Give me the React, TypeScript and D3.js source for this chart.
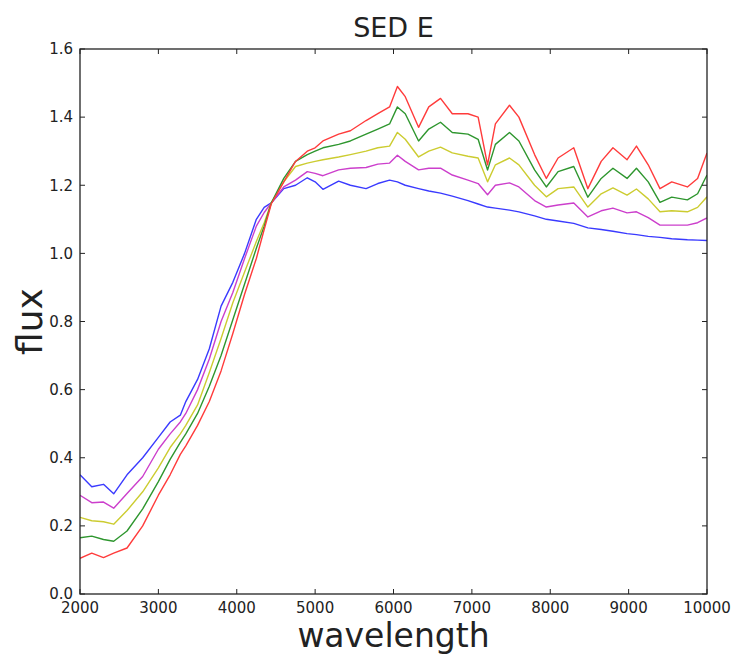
import React from "react";
import * as d3 from "d3";

const wavelengths = [2000, 2150, 2300, 2430, 2600, 2800, 3000, 3150, 3280, 3350, 3500, 3650, 3800, 3950, 4100, 4250, 4350, 4440, 4600, 4750, 4900, 5000, 5100, 5300, 5450, 5650, 5800, 5950, 6050, 6150, 6320, 6450, 6600, 6750, 6950, 7080, 7200, 7300, 7480, 7600, 7800, 7950, 8100, 8300, 8480, 8650, 8800, 8980, 9100, 9250, 9400, 9550, 9750, 9880, 10000];

const blueFlux = [0.35, 0.315, 0.322, 0.294, 0.35, 0.40, 0.46, 0.505, 0.525, 0.565, 0.63, 0.72, 0.845, 0.915, 1.0, 1.10, 1.135, 1.148, 1.19, 1.20, 1.222, 1.21, 1.188, 1.212, 1.20, 1.19, 1.205, 1.215, 1.21, 1.20, 1.19, 1.183, 1.177, 1.168, 1.155, 1.145, 1.136, 1.133, 1.127, 1.122, 1.11, 1.10, 1.095, 1.088, 1.075, 1.07, 1.065, 1.058, 1.055, 1.05, 1.047, 1.043, 1.04, 1.039, 1.038];

const magentaFlux = [0.29, 0.268, 0.27, 0.252, 0.295, 0.345, 0.425, 0.47, 0.505, 0.53, 0.60, 0.69, 0.80, 0.885, 0.985, 1.08, 1.12, 1.148, 1.195, 1.215, 1.24, 1.235, 1.228, 1.245, 1.25, 1.252, 1.262, 1.265, 1.288, 1.27, 1.245, 1.25, 1.25, 1.23, 1.215, 1.205, 1.172, 1.20, 1.207, 1.195, 1.155, 1.136, 1.142, 1.148, 1.107, 1.125, 1.133, 1.119, 1.122, 1.105, 1.083, 1.083, 1.083, 1.09, 1.104];

const yellowFlux = [0.225, 0.215, 0.212, 0.205, 0.245, 0.30, 0.37, 0.43, 0.47, 0.495, 0.555, 0.65, 0.75, 0.855, 0.945, 1.035, 1.09, 1.148, 1.21, 1.255, 1.265, 1.27, 1.275, 1.283, 1.29, 1.30, 1.31, 1.315, 1.355, 1.335, 1.283, 1.30, 1.312, 1.295, 1.285, 1.28, 1.21, 1.26, 1.28, 1.26, 1.20, 1.166, 1.19, 1.195, 1.136, 1.175, 1.192, 1.171, 1.189, 1.16, 1.122, 1.125, 1.122, 1.135, 1.166];

const greenFlux = [0.165, 0.17, 0.16, 0.155, 0.185, 0.25, 0.33, 0.395, 0.445, 0.47, 0.53, 0.61, 0.70, 0.805, 0.91, 1.015, 1.08, 1.148, 1.22, 1.27, 1.29, 1.30, 1.31, 1.32, 1.33, 1.35, 1.365, 1.38, 1.43, 1.41, 1.33, 1.365, 1.385, 1.355, 1.35, 1.335, 1.245, 1.32, 1.355, 1.33, 1.245, 1.195, 1.24, 1.255, 1.165, 1.22, 1.25, 1.22, 1.25, 1.21, 1.15, 1.165, 1.157, 1.175, 1.23];

const redFlux = [0.105, 0.12, 0.107, 0.12, 0.135, 0.20, 0.29, 0.35, 0.41, 0.435, 0.495, 0.565, 0.655, 0.765, 0.88, 0.985, 1.07, 1.145, 1.21, 1.27, 1.30, 1.31, 1.33, 1.35, 1.36, 1.39, 1.41, 1.43, 1.49, 1.46, 1.37, 1.43, 1.455, 1.41, 1.41, 1.40, 1.26, 1.38, 1.435, 1.40, 1.29, 1.22, 1.28, 1.31, 1.19, 1.27, 1.31, 1.275, 1.315, 1.26, 1.19, 1.21, 1.195, 1.22, 1.295];

const seriesNames = ["blue", "magenta", "yellow", "green", "red"];
const seriesValues = [blueFlux, magentaFlux, yellowFlux, greenFlux, redFlux];
const seriesColors = ["#3a3aff", "#cc3fcc", "#cccc30", "#2e962e", "#ff3b3b"];

const xTicks = [2000, 3000, 4000, 5000, 6000, 7000, 8000, 9000, 10000];
const yTicks = [0.0, 0.2, 0.4, 0.6, 0.8, 1.0, 1.2, 1.4, 1.6];

const titleText = "SED E";
const xLabelText = "wavelength";
const yLabelText = "flux";

export default function App() {
  const W = 733, H = 658;
  const left = 80, right = 707, top = 49, bottom = 594;
  const x = d3.scaleLinear().domain([2000, 10000]).range([left, right]);
  const y = d3.scaleLinear().domain([0, 1.6]).range([bottom, top]);
  const line = d3
    .line<[number, number]>()
    .x((d) => x(d[0]))
    .y((d) => y(d[1]));
  const font = "'DejaVu Sans', sans-serif";
  const tl = 5;

  return (
    <svg
      width={W}
      height={H}
      style={{ position: "absolute", left: 0, top: 0, background: "#fff" }}
      fontFamily={font}
    >
      <rect x={0} y={0} width={W} height={H} fill="#fff" />
      <defs>
        <clipPath id="plotclip">
          <rect x={left} y={top} width={right - left} height={bottom - top} />
        </clipPath>
      </defs>
      <g clipPath="url(#plotclip)">
        {seriesValues.map((vals, i) => (
          <path
            key={seriesNames[i]}
            d={line(wavelengths.map((w, j) => [w, vals[j]] as [number, number])) || ""}
            fill="none"
            stroke={seriesColors[i]}
            strokeWidth={1.4}
            strokeLinejoin="round"
          />
        ))}
      </g>
      {xTicks.map((t) => (
        <g key={"xt" + t}>
          <line x1={x(t)} x2={x(t)} y1={bottom} y2={bottom - tl} stroke="#222" strokeWidth={1} />
          <line x1={x(t)} x2={x(t)} y1={top} y2={top + tl} stroke="#222" strokeWidth={1} />
          <text x={x(t)} y={613} textAnchor="middle" fontSize={15} fill="#222">
            {t}
          </text>
        </g>
      ))}
      {yTicks.map((t) => (
        <g key={"yt" + t}>
          <line x1={left} x2={left + tl} y1={y(t)} y2={y(t)} stroke="#222" strokeWidth={1} />
          <line x1={right} x2={right - tl} y1={y(t)} y2={y(t)} stroke="#222" strokeWidth={1} />
          <text x={73} y={y(t)} dy="0.35em" textAnchor="end" fontSize={15} fill="#222">
            {t.toFixed(1)}
          </text>
        </g>
      ))}
      <rect
        x={left}
        y={top}
        width={right - left}
        height={bottom - top}
        fill="none"
        stroke="#222"
        strokeWidth={1.3}
      />
      <text x={(left + right) / 2} y={37} textAnchor="middle" fontSize={27} fill="#222">
        {titleText}
      </text>
      <text x={(left + right) / 2} y={647} textAnchor="middle" fontSize={33} fill="#222">
        {xLabelText}
      </text>
      <text
        transform={`translate(42, ${(top + bottom) / 2}) rotate(-90)`}
        textAnchor="middle"
        fontSize={36}
        fill="#222"
      >
        {yLabelText}
      </text>
    </svg>
  );
}
